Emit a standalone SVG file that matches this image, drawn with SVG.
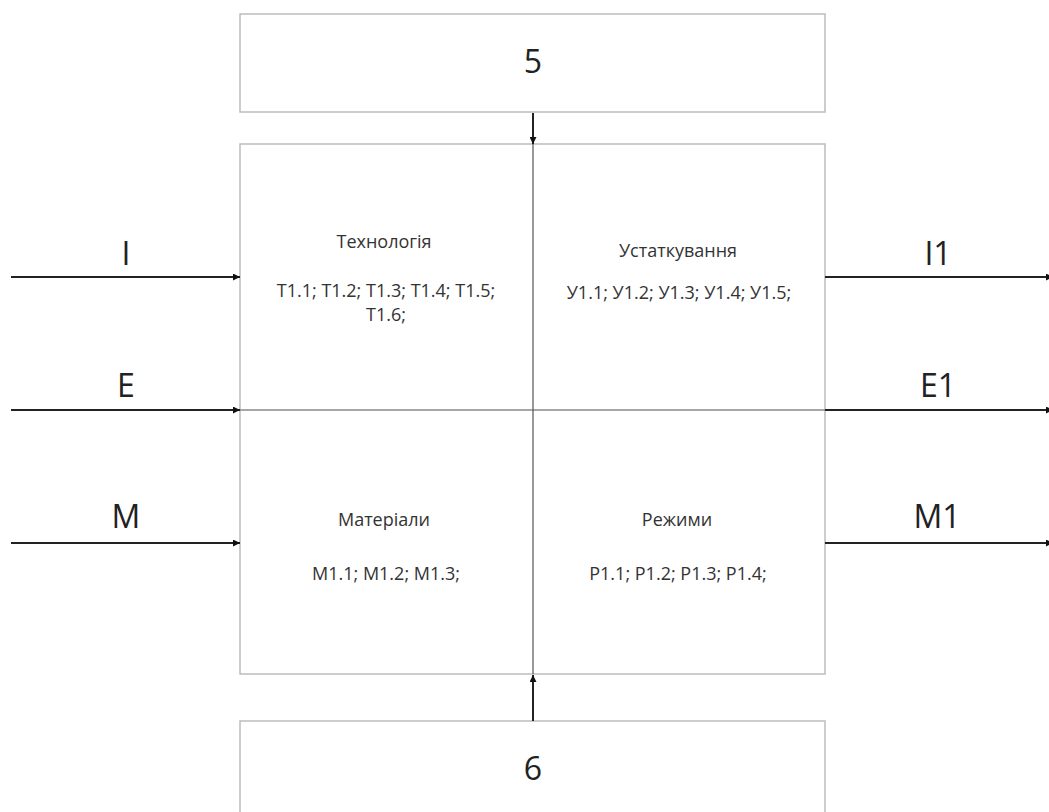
<svg xmlns="http://www.w3.org/2000/svg" width="1049" height="812" viewBox="0 0 1049 812">
<style>
.box{fill:#fff;stroke:#bdbdbd;stroke-width:1.5}
.div{stroke:#555;stroke-width:1.2;fill:none}
.divh{stroke:#8a8a8a;stroke-width:1.5;fill:none}
.arr{stroke:#222;stroke-width:2;fill:none;marker-end:url(#ah)}
.big{font-family:"Open Sans","Noto Sans",sans-serif;font-size:32px;fill:#222;text-anchor:middle}
.sm{font-family:"Open Sans","Noto Sans",sans-serif;font-size:18px;fill:#333;text-anchor:middle}
</style>
<defs>
<marker id="ah" viewBox="0 0 10 10" refX="10" refY="5" markerWidth="9" markerHeight="7" markerUnits="userSpaceOnUse" orient="auto">
<path d="M0,0 L10,5 L0,10 z" fill="#111"/>
</marker>
</defs>
<rect width="1049" height="812" fill="#fff"/>
<g id="node5">
<rect class="box" x="240" y="14" width="585" height="98"/>
<text class="big" x="533" y="73">5</text>
</g>
<g id="main">
<rect class="box" x="240" y="144" width="585" height="530"/>
<line class="divh" x1="240" y1="410" x2="825" y2="410"/>
<line class="div" x1="533" y1="144" x2="533" y2="674"/>
</g>
<g id="tech">
<text class="sm" x="384" y="248">Технологія</text>
<text class="sm" x="386" y="297">Т1.1; Т1.2; Т1.3; Т1.4; Т1.5;</text>
<text class="sm" x="386" y="321">Т1.6;</text>
</g>
<g id="equip">
<text class="sm" x="678" y="257">Устаткування</text>
<text class="sm" x="679" y="299">У1.1; У1.2; У1.3; У1.4; У1.5;</text>
</g>
<g id="mat">
<text class="sm" x="384" y="526">Матеріали</text>
<text class="sm" x="386" y="580">М1.1; М1.2; М1.3;</text>
</g>
<g id="mode">
<text class="sm" x="677" y="526">Режими</text>
<text class="sm" x="678" y="580">Р1.1; Р1.2; Р1.3; Р1.4;</text>
</g>
<g id="node6">
<rect class="box" x="240" y="721" width="585" height="100"/>
<text class="big" x="533" y="780">6</text>
</g>
<g id="labels">
<text class="big" x="126" y="265">I</text>
<text class="big" x="126" y="397">E</text>
<text class="big" x="126" y="528">M</text>
<text class="big" x="938" y="265">I1</text>
<text class="big" x="938" y="397">E1</text>
<text class="big" x="937" y="528">M1</text>
</g>
<g id="connectors">
<line class="arr" x1="533" y1="113" x2="533" y2="144"/>
<line class="arr" x1="533" y1="721" x2="533" y2="675"/>
<line class="arr" x1="11" y1="277" x2="240" y2="277"/>
<line class="arr" x1="11" y1="410" x2="240" y2="410"/>
<line class="arr" x1="11" y1="543" x2="240" y2="543"/>
<line class="arr" x1="825" y1="277" x2="1053" y2="277"/>
<line class="arr" x1="825" y1="410" x2="1053" y2="410"/>
<line class="arr" x1="825" y1="543" x2="1053" y2="543"/>
</g>
</svg>
